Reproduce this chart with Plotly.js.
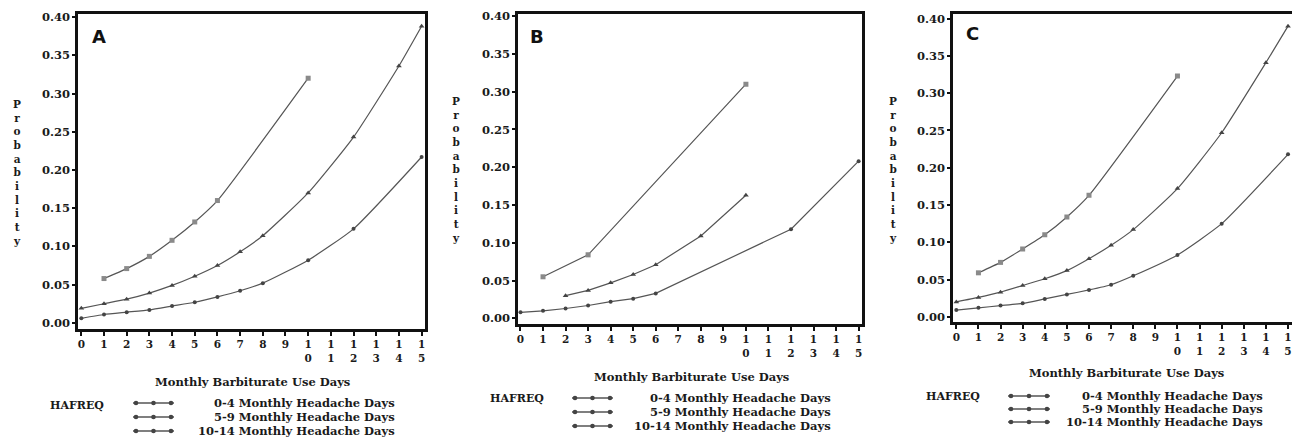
<!DOCTYPE html>
<html>
<head>
<meta charset="utf-8">
<script src="https://cdn.plot.ly/plotly-3.0.1.min.js"></script>
<style>html,body{margin:0;padding:0;background:#fff;}#chart{width:1292px;height:438px;}</style>
</head>
<body>
<div id="chart"></div>
<script>
// ---- data ----
const seriesNames = ['0-4 Monthly Headache Days', '5-9 Monthly Headache Days', '10-14 Monthly Headache Days'];
const dayTicks = [0,1,2,3,4,5,6,7,8,9,10,11,12,13,14,15];
const dayTickLabels = ['0','1','2','3','4','5','6','7','8','9','1<br>0','1<br>1','1<br>2','1<br>3','1<br>4','1<br>5'];
const panelLabels = ['A', 'B', 'C'];
const xTitle = 'Monthly Barbiturate Use Days';
const yTitle = 'Probability';
const legendTitle = 'HAFREQ';

// Panel A
const aDays1 = [1,2,3,4,5,6,10];
const aProb1 = [0.058,0.071,0.087,0.108,0.132,0.160,0.320];
const aDays2 = [0,1,2,3,4,5,6,7,8,10,12,14,15];
const aProb2 = [0.019,0.025,0.031,0.039,0.049,0.061,0.075,0.093,0.114,0.170,0.243,0.336,0.388];
const aDays3 = [0,1,2,3,4,5,6,7,8,10,12,15];
const aProb3 = [0.006,0.011,0.014,0.017,0.022,0.027,0.034,0.042,0.052,0.082,0.123,0.217];

// Panel B
const bDays1 = [1,3,10];
const bProb1 = [0.055,0.084,0.310];
const bDays2 = [2,3,4,5,6,8,10];
const bProb2 = [0.030,0.037,0.047,0.058,0.071,0.109,0.163];
const bDays3 = [0,1,2,3,4,5,6,12,15];
const bProb3 = [0.008,0.010,0.013,0.017,0.022,0.026,0.033,0.118,0.208];

// Panel C
const cDays1 = [1,2,3,4,5,6,10];
const cProb1 = [0.059,0.073,0.091,0.110,0.134,0.163,0.323];
const cDays2 = [0,1,2,3,4,5,6,7,8,10,12,14,15];
const cProb2 = [0.020,0.026,0.033,0.042,0.051,0.062,0.078,0.096,0.117,0.172,0.247,0.341,0.390];
const cDays3 = [0,1,2,3,4,5,6,7,8,10,12,15];
const cProb3 = [0.009,0.012,0.015,0.018,0.024,0.030,0.036,0.043,0.055,0.083,0.125,0.218];

// ---- layout helpers ----
const W = 1292, H = 438;
const px = x => x / W;
const py = y => 1 - y / H;
const SERIF = 'DejaVu Serif';
const TXT = '#1a1a1a';
const lineColor = '#555';
const markerStyles = [
  {symbol: 'square', size: 5, color: '#8a8a8a'},
  {symbol: 'triangle-up', size: 5, color: '#444'},
  {symbol: 'circle', size: 4, color: '#444'}
];

const panels = [
  {days: [aDays1, aDays2, aDays3], probs: [aProb1, aProb2, aProb3], shape: 'spline',
   xd: [78, 425], yd: [14, 329], xr: [-0.146, 15.15], yr: [-0.008, 0.404], mirrorY: true,
   label: [99, 37], ytl: [17, 172], xtl: [252, 382],
   leg: {hx: 77, hy: 405, lx0: 133, lx1: 174, rows: [403, 417, 431], tx: 397}},
  {days: [bDays1, bDays2, bDays3], probs: [bProb1, bProb2, bProb3], shape: 'linear',
   xd: [518, 862], yd: [13.5, 324], xr: [-0.11, 15.15], yr: [-0.0075, 0.4035], mirrorY: true,
   label: [537, 37], ytl: [456, 170], xtl: [691, 377],
   leg: {hx: 517, hy: 398, lx0: 572, lx1: 613, rows: [398, 412, 426], tx: 833}},
  {days: [cDays1, cDays2, cDays3], probs: [cProb1, cProb2, cProb3], shape: 'spline',
   xd: [953, 1292], yd: [13.5, 322], xr: [-0.15, 15.18], yr: [-0.007, 0.407], mirrorY: false,
   label: [972, 34], ytl: [893, 169], xtl: [1126, 373],
   leg: {hx: 953, hy: 396, lx0: 1008, lx1: 1050, rows: [396, 409, 422], tx: 1265}}
];

const traces = [];
const layout = {
  width: W, height: H,
  margin: {l: 0, r: 0, t: 0, b: 0},
  paper_bgcolor: '#fff', plot_bgcolor: '#fff',
  showlegend: false,
  annotations: [], shapes: []
};

panels.forEach((p, i) => {
  const n = i === 0 ? '' : String(i + 1);
  for (let s = 0; s < 3; s++) {
    traces.push({
      type: 'scatter', mode: 'lines+markers',
      x: p.days[s], y: p.probs[s],
      xaxis: 'x' + n, yaxis: 'y' + n,
      name: seriesNames[s],
      line: {color: lineColor, width: 1.2, shape: p.shape, smoothing: 0.5},
      marker: {symbol: markerStyles[s].symbol, size: markerStyles[s].size, color: markerStyles[s].color},
      hoverinfo: 'skip'
    });
  }
  layout['xaxis' + n] = {
    domain: [px(p.xd[0]), Math.min(1, px(p.xd[1]))],
    range: p.xr, anchor: 'y' + n,
    tickmode: 'array', tickvals: dayTicks, ticktext: dayTickLabels,
    ticks: 'outside', ticklen: 4, tickwidth: 2, tickcolor: '#111',
    showline: true, linecolor: '#111', linewidth: 2.6, mirror: true,
    showgrid: false, zeroline: false,
    tickfont: {family: SERIF, size: 10.5, weight: 'bold', color: TXT}
  };
  layout['yaxis' + n] = {
    domain: [py(p.yd[1]), py(p.yd[0])],
    range: p.yr, anchor: 'x' + n,
    tickmode: 'linear', tick0: 0, dtick: 0.05, tickformat: '.2f',
    ticks: 'outside', ticklen: 3, tickwidth: 2, tickcolor: '#111',
    showline: true, linecolor: '#111', linewidth: 2.6, mirror: p.mirrorY,
    showgrid: false, zeroline: false,
    tickfont: {family: SERIF, size: 11.5, weight: 'bold', color: TXT}
  };
  // panel letter
  layout.annotations.push({
    xref: 'paper', yref: 'paper', x: px(p.label[0]), y: py(p.label[1]),
    text: panelLabels[i], showarrow: false, xanchor: 'center', yanchor: 'middle',
    font: {family: 'DejaVu Sans', size: 18, weight: 'bold', color: '#111'}
  });
  // stacked y title
  layout.annotations.push({
    xref: 'paper', yref: 'paper', x: px(p.ytl[0]), y: py(p.ytl[1]),
    text: yTitle.split('').join('<br>'), showarrow: false, xanchor: 'center', yanchor: 'middle',
    font: {family: SERIF, size: 10.5, weight: 'bold', color: TXT}
  });
  // x title
  layout.annotations.push({
    xref: 'paper', yref: 'paper', x: px(p.xtl[0]), y: py(p.xtl[1]),
    text: xTitle, showarrow: false, xanchor: 'center', yanchor: 'middle',
    font: {family: SERIF, size: 11.5, weight: 'bold', color: TXT}
  });
  // legend
  const L = p.leg;
  layout.annotations.push({
    xref: 'paper', yref: 'paper', x: px(L.hx), y: py(L.hy),
    text: legendTitle, showarrow: false, xanchor: 'center', yanchor: 'middle',
    font: {family: SERIF, size: 11, weight: 'bold', color: TXT}
  });
  L.rows.forEach((ry, s) => {
    layout.shapes.push({type: 'line', xref: 'paper', yref: 'paper',
      x0: px(L.lx0), x1: px(L.lx1), y0: py(ry), y1: py(ry),
      line: {color: lineColor, width: 1.6}});
    [L.lx0 + 3, (L.lx0 + L.lx1) / 2, L.lx1 - 3].forEach(mx => {
      layout.shapes.push({type: 'circle', xref: 'paper', yref: 'paper',
        x0: px(mx - 2.3), x1: px(mx + 2.3), y0: py(ry + 2.3), y1: py(ry - 2.3),
        fillcolor: '#444', line: {color: '#444', width: 0}});
    });
    layout.annotations.push({
      xref: 'paper', yref: 'paper', x: px(L.tx), y: py(ry),
      text: seriesNames[s], showarrow: false, xanchor: 'right', yanchor: 'middle',
      font: {family: SERIF, size: 11.5, weight: 'bold', color: TXT}
    });
  });
});

Plotly.newPlot('chart', traces, layout, {displayModeBar: false, staticPlot: true});
</script>
</body>
</html>
